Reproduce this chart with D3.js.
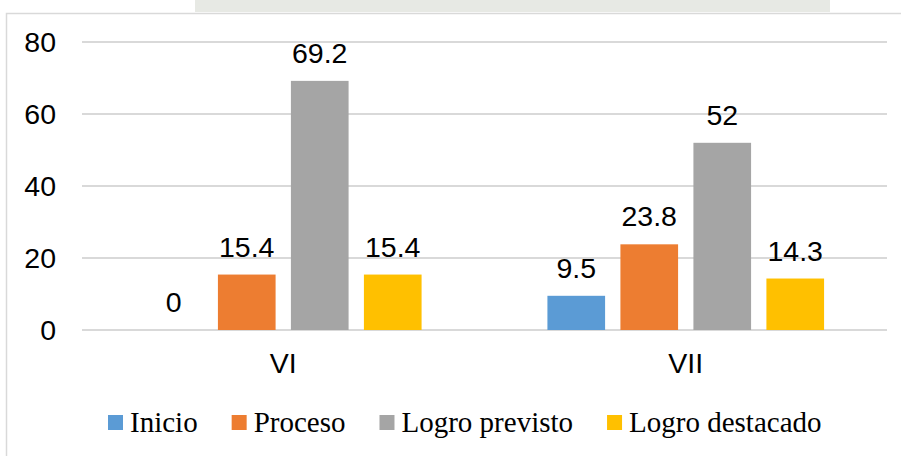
<!DOCTYPE html>
<html>
<head>
<meta charset="utf-8">
<script src="https://cdn.jsdelivr.net/npm/d3@7"></script>
<style>
  body { margin: 0; background: #fff; }
  svg { display: block; }
</style>
</head>
<body>
<svg id="chart"></svg>
<script>
// Data
const categories = ["VI", "VII"];
const seriesNames = ["Inicio", "Proceso", "Logro previsto", "Logro destacado"];
const inicio = [0, 9.5];
const proceso = [15.4, 23.8];
const logroPrevisto = [69.2, 52];
const logroDestacado = [15.4, 14.3];
const yTicks = [0, 20, 40, 60, 80];
const colors = ["#5B9BD5", "#ED7D31", "#A5A5A5", "#FFC000"];

const seriesValues = [inicio, proceso, logroPrevisto, logroDestacado];

const width = 901, height = 456;
const plot = { left: 82, right: 887, top: 42, bottom: 330 };
const sansFont = "'Liberation Sans', Arial, sans-serif";

const svg = d3.select("#chart")
    .attr("width", width)
    .attr("height", height);

// faint watermark strip above the frame
svg.append("rect")
    .attr("x", 195).attr("y", 0)
    .attr("width", 635).attr("height", 12)
    .attr("fill", "#e7e9e4");

// chart frame (only left and top visible)
svg.append("path")
    .attr("d", "M6.5,460 V13.5 H905")
    .attr("fill", "none")
    .attr("stroke", "#d9d9d9")
    .attr("stroke-width", 1.5);

const y = d3.scaleLinear().domain([0, 80]).range([plot.bottom, plot.top]);
const x0 = d3.scaleBand().domain(categories).range([plot.left, plot.right]).padding(0);
const x1 = d3.scaleBand().domain(seriesNames).range([0, x0.bandwidth()])
    .paddingInner(0.21).paddingOuter(0.862);

// gridlines
svg.append("g")
    .selectAll("line")
    .data(yTicks)
    .join("line")
        .attr("x1", plot.left)
        .attr("x2", plot.right)
        .attr("y1", d => y(d))
        .attr("y2", d => y(d))
        .attr("stroke", "#d9d9d9")
        .attr("stroke-width", 1.8);

// y labels
svg.append("g")
    .selectAll("text")
    .data(yTicks)
    .join("text")
        .attr("x", 56)
        .attr("y", d => y(d) + 10)
        .attr("text-anchor", "end")
        .style("font-family", sansFont)
        .style("font-size", "28.5px")
        .attr("fill", "#000")
        .text(d => d);

// bars
const rows = [];
categories.forEach((c, ci) => {
    seriesNames.forEach((s, si) => {
        rows.push({ cat: c, series: s, value: seriesValues[si][ci], color: colors[si] });
    });
});

svg.append("g")
    .selectAll("rect")
    .data(rows)
    .join("rect")
        .attr("x", d => x0(d.cat) + x1(d.series))
        .attr("y", d => y(d.value))
        .attr("width", x1.bandwidth())
        .attr("height", d => y(0) - y(d.value))
        .attr("fill", d => d.color);

// value labels
svg.append("g")
    .selectAll("text")
    .data(rows)
    .join("text")
        .attr("x", d => x0(d.cat) + x1(d.series) + x1.bandwidth() / 2)
        .attr("y", d => y(d.value) - 18)
        .attr("text-anchor", "middle")
        .style("font-family", sansFont)
        .style("font-size", "28.5px")
        .attr("fill", "#000")
        .text(d => d.value);

// category labels
svg.append("g")
    .selectAll("text")
    .data(categories)
    .join("text")
        .attr("x", d => x0(d) + x0.bandwidth() / 2)
        .attr("y", 373)
        .attr("text-anchor", "middle")
        .style("font-family", sansFont)
        .style("font-size", "28.5px")
        .attr("fill", "#000")
        .text(d => d);

// legend
const legend = svg.append("g");
let lx = 108;
seriesNames.forEach((s, i) => {
    legend.append("rect")
        .attr("x", lx).attr("y", 415)
        .attr("width", 15).attr("height", 15)
        .attr("fill", colors[i]);
    const t = legend.append("text")
        .attr("x", lx + 22)
        .attr("y", 432)
        .style("font-family", "'Liberation Serif', 'Times New Roman', serif")
        .style("font-size", "29px")
        .attr("fill", "#000")
        .text(s);
    lx += 22 + t.node().getComputedTextLength() + 34;
});
</script>
</body>
</html>
